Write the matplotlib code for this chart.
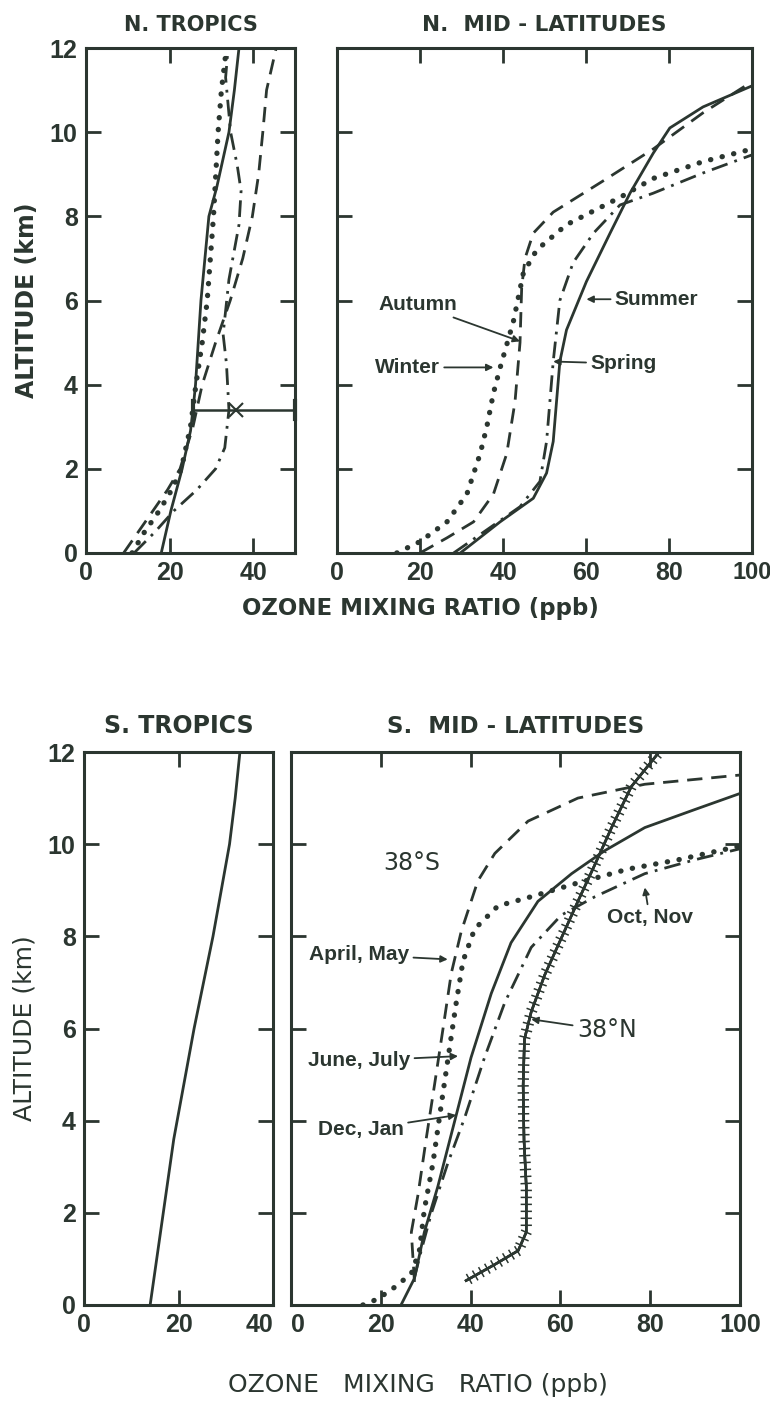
import matplotlib
matplotlib.use("Agg")
import matplotlib.pyplot as plt
import matplotlib.patheffects as pe
from matplotlib import font_manager

# ---- data: altitude (km) and ozone mixing ratio (ppb) ----
# N. tropics
nt_sol_alt = [0, 1, 2, 2.9, 3.4, 4, 6, 8, 8.7, 10, 11, 12]
nt_sol_o3 = [18, 20.3, 23, 25, 25.6, 26.2, 27.5, 29.4, 31.3, 34.2, 35.5, 36.6]
nt_dot_alt = [0, 0.5, 1, 1.5, 2, 3, 4, 5, 6, 8, 10, 11, 12]
nt_dot_o3 = [11, 14, 17.5, 20.5, 22.8, 25, 26.3, 27.8, 29, 30.5, 31.6, 32.4, 33.6]
nt_dash_alt = [0, 0.5, 1, 1.5, 2, 3, 4, 5, 6, 7, 8, 9, 10, 11, 12]
nt_dash_o3 = [9, 12.5, 16, 19.5, 22.5, 25.6, 27.8, 31, 34.5, 37.5, 39.8, 41.3, 42.3, 43.2, 45.5]
nt_dd_alt = [0, 0.5, 1, 1.5, 2, 2.5, 3.4, 4.5, 5.2, 6.5, 7.8, 8.6, 9.2, 10, 11.3, 12]
nt_dd_o3 = [11.5, 16.5, 21, 26.5, 31, 33.2, 34.2, 33.6, 32.8, 34.2, 36.6, 37.1, 36.2, 34.6, 33.4, 34]
nt_bar_alt = 3.4
nt_bar_lo, nt_bar_hi, nt_bar_mid = 25.5, 50, 36

# N. mid-latitudes
nm_winter_alt = [0, 0.27, 0.74, 1.4, 2.36, 3.0, 3.8, 4.4, 5.5, 6.65, 7.2, 7.8, 8.45, 8.9, 9.3, 9.6]
nm_winter_o3 = [14.4, 20, 26.5, 31.3, 34.5, 36.1, 37.7, 39.3, 42.5, 44.9, 48.1, 55.3, 68.2, 76.2, 88.2, 100]
nm_autumn_alt = [0, 0.36, 0.74, 1.4, 2.36, 3.6, 5.0, 6.3, 7.0, 7.6, 8.1, 8.84, 9.6, 10.46, 11.2]
nm_autumn_o3 = [20, 26.5, 32.9, 37.7, 40.9, 42.9, 44.1, 44.5, 45.3, 47.3, 52.1, 64.1, 76.2, 88.2, 100]
nm_summer_alt = [0, 0.74, 1.3, 1.9, 2.65, 3.6, 4.55, 5.3, 6.45, 7.6, 8.55, 9.5, 10.1, 10.6, 11.1]
nm_summer_o3 = [29.7, 39.3, 47.3, 50.5, 52.1, 52.9, 53.7, 55.3, 60.1, 65.8, 70.6, 76.2, 80.2, 88.2, 100]
nm_spring_alt = [0, 0.55, 1.1, 1.7, 2.65, 3.6, 4.55, 6.0, 6.9, 7.6, 8.27, 8.55, 9.03, 9.46]
nm_spring_o3 = [28.1, 36.1, 44.1, 48.9, 50.5, 51.3, 52.1, 53.7, 56.9, 61.8, 68.2, 76.2, 88.2, 100]

# S. tropics
st_alt = [0, 3.6, 6, 8, 10, 11, 12]
st_o3 = [14, 19, 23.3, 27.3, 30.8, 32, 33]

# S. mid-latitudes (38S by season, plus 38N annual)
sm_am_alt = [0.5, 1.58, 2.4, 3.6, 4.8, 5.96, 7.2, 8.1, 9.2, 9.8, 10.5, 11.0, 11.3, 11.5]
sm_am_o3 = [27.5, 26.8, 28.3, 30.1, 32, 33.8, 35.7, 37.9, 41.6, 45.4, 52.8, 63.9, 78.8, 100]
sm_jj_alt = [0, 0.13, 0.38, 0.68, 1.18, 2.07, 3.07, 4.37, 5.37, 6.56, 7.46, 8.16, 8.66, 8.86, 9.16, 9.46, 9.66, 9.96]
sm_jj_o3 = [16, 19.3, 23, 26.8, 28.6, 29.7, 31.6, 33.5, 35, 36.8, 38.3, 40.9, 46.1, 53.5, 63.9, 75.1, 86.2, 100]
sm_dj_alt = [0, 0.58, 1.58, 2.57, 3.97, 5.37, 6.76, 7.86, 8.76, 9.36, 9.86, 10.36, 10.75, 11.1]
sm_dj_o3 = [24.5, 27.5, 29.7, 32.7, 36.4, 40.1, 44.6, 49, 55, 62.5, 69.9, 78.8, 89.9, 100]
sm_on_alt = [0.6, 1.18, 1.97, 3.07, 4.07, 5.37, 6.56, 7.76, 8.46, 8.86, 9.36, 9.66, 9.9]
sm_on_o3 = [27.5, 29, 31.2, 34.9, 38.7, 43.1, 47.6, 53.5, 60.2, 67.7, 78.8, 89.9, 100]
sm_38n_alt = [0.53, 0.88, 1.18, 1.58, 2.57, 3.57, 4.77, 5.77, 6.36, 7.16, 7.96, 8.76, 9.56, 10.36, 11.25, 12]
sm_38n_o3 = [39, 45.4, 50.6, 52.4, 52.4, 51.9, 51.7, 52, 53.5, 56.5, 60.2, 63.9, 67.7, 71.4, 75.8, 82]

INK = '#2b3630'
W, H = 770, 1404

names = {f.name for f in font_manager.fontManager.ttflist}
NARROW = 'Liberation Sans Narrow' if 'Liberation Sans Narrow' in names else 'Liberation Sans'

plt.rcParams['font.family'] = 'DejaVu Sans'
plt.rcParams['text.color'] = INK

fig = plt.figure(figsize=(W / 100, H / 100), dpi=100)
fig.patch.set_facecolor('white')


def box(l, t, r, b):
    return [l / W, 1 - b / H, (r - l) / W, (b - t) / H]


SOLID = dict(color=INK, lw=2.0, ls='-')
DOT = dict(color=INK, lw=3.8, ls=(0, (0.05, 2.2)), dash_capstyle='round')
DASH = dict(color=INK, lw=2.0, ls=(0, (5.5, 3.2)))
DDOT = dict(color=INK, lw=2.0, ls=(0, (6, 2.6, 1, 2.6)))


def setup(ax, xmax, xticks, ylabels=True):
    ax.set_xlim(0, xmax)
    ax.set_ylim(0, 12)
    ax.set_xticks(xticks)
    ax.set_yticks(range(0, 13, 2))
    for s in ax.spines.values():
        s.set_linewidth(2.2)
        s.set_color(INK)
    ax.tick_params(direction='in', length=11, width=2, color=INK,
                   top=True, right=True, pad=6, labelcolor=INK)
    for lab in ax.get_xticklabels() + ax.get_yticklabels():
        lab.set_fontfamily(NARROW)
        lab.set_fontweight('bold')
        lab.set_fontsize(18)
    if not ylabels:
        ax.set_yticklabels([])


# ---------------- N. TROPICS ----------------
ax1 = fig.add_axes(box(86, 48, 295, 553))
ax1.plot(nt_sol_o3, nt_sol_alt, **SOLID)
ax1.plot(nt_dot_o3, nt_dot_alt, **DOT)
ax1.plot(nt_dash_o3, nt_dash_alt, **DASH)
ax1.plot(nt_dd_o3, nt_dd_alt, **DDOT)
ax1.plot([nt_bar_lo, nt_bar_hi], [nt_bar_alt, nt_bar_alt], color=INK, lw=1.8, clip_on=False)
for xx in (nt_bar_lo, nt_bar_hi):
    ax1.plot([xx, xx], [nt_bar_alt - 0.22, nt_bar_alt + 0.22], color=INK, lw=3, clip_on=False)
ax1.plot(nt_bar_mid, nt_bar_alt, marker='x', ms=10, mew=1.5, color=INK)
setup(ax1, 50, [0, 20, 40])
ax1.set_title('N. TROPICS', fontsize=15, fontweight='bold', color=INK, pad=12)
ax1.set_ylabel('ALTITUDE (km)', fontsize=17, fontweight='bold', color=INK, labelpad=8)

# ---------------- N. MID-LATITUDES ----------------
ax2 = fig.add_axes(box(337, 48, 752, 553))
ax2.plot(nm_summer_o3, nm_summer_alt, **SOLID)
ax2.plot(nm_winter_o3, nm_winter_alt, **DOT)
ax2.plot(nm_autumn_o3, nm_autumn_alt, **DASH)
ax2.plot(nm_spring_o3, nm_spring_alt, **DDOT)
setup(ax2, 100, [0, 20, 40, 60, 80, 100], ylabels=False)
ax2.get_xticklabels()[-1].set_fontsize(17)
ax2.set_title('N.  MID - LATITUDES', fontsize=15.5, fontweight='bold', color=INK, pad=12)

ann = dict(fontsize=15, fontweight='bold', family=NARROW, color=INK, va='center', ha='center')
arr = dict(arrowstyle='-|>', color=INK, lw=1.3, mutation_scale=10, shrinkA=1, shrinkB=0)
ax2.annotate('Autumn', xy=(44.1, 5.03), xytext=(19.5, 5.9), arrowprops=arr, **ann)
ax2.annotate('Winter', xy=(37.7, 4.41), xytext=(17.0, 4.41), arrowprops=arr, **ann)
ax2.annotate('Summer', xy=(60.1, 6.03), xytext=(77.0, 6.03), arrowprops=arr, **ann)
ax2.annotate('Spring', xy=(52.1, 4.55), xytext=(69.0, 4.5), arrowprops=arr, **ann)

fig.text(420 / W, 1 - 609 / H, 'OZONE MIXING RATIO (ppb)', fontsize=16.5,
         fontweight='bold', color=INK, ha='center', va='center')

# ---------------- S. TROPICS ----------------
ax3 = fig.add_axes(box(84, 752, 273, 1305))
ax3.plot(st_o3, st_alt, **SOLID)
setup(ax3, 40, [0, 20, 40])
ax3.get_xticklabels()[-1].set_horizontalalignment('right')
ax3.set_title('S. TROPICS', fontsize=17, fontweight='bold', color=INK, pad=14)
ax3.set_ylabel('ALTITUDE (km)', fontsize=18, color=INK, labelpad=8)

# ---------------- S. MID-LATITUDES ----------------
ax4 = fig.add_axes(box(291, 752, 740, 1305))
ax4.plot(sm_am_o3, sm_am_alt, **DASH)
ax4.plot(sm_jj_o3, sm_jj_alt, **DOT)
ax4.plot(sm_dj_o3, sm_dj_alt, **SOLID)
ax4.plot(sm_on_o3, sm_on_alt, **DDOT)
ax4.plot(sm_38n_o3, sm_38n_alt, color=INK, lw=1.8,
         path_effects=[pe.withTickedStroke(angle=90, spacing=5, length=0.7, linewidth=1.1),
                       pe.withTickedStroke(angle=-90, spacing=5, length=0.7, linewidth=1.1),
                       pe.Normal()])
setup(ax4, 100, [0, 20, 40, 60, 80, 100], ylabels=False)
ax4.get_xticklabels()[0].set_horizontalalignment('left')
ax4.set_title('S.  MID - LATITUDES', fontsize=16.5, fontweight='bold', color=INK, pad=14)

ax4.text(26.8, 9.6, '38°S', fontsize=17, color=INK, ha='center', va='center')
ax4.annotate('38°N', xy=(53.5, 6.2), xytext=(70.3, 5.96), arrowprops=arr,
             fontsize=17, color=INK, ha='center', va='center')
ax4.annotate('April, May', xy=(34.9, 7.5), xytext=(15.2, 7.6), arrowprops=arr, **ann)
ax4.annotate('June, July', xy=(37.2, 5.4), xytext=(15.2, 5.3), arrowprops=arr, **ann)
ax4.annotate('Dec, Jan', xy=(36.8, 4.12), xytext=(15.6, 3.8), arrowprops=arr, **ann)
ax4.annotate('Oct, Nov', xy=(78.8, 9.06), xytext=(79.9, 8.4), arrowprops=arr, **ann)

fig.text(418 / W, 1 - 1385 / H, 'OZONE   MIXING   RATIO (ppb)', fontsize=18,
         color=INK, ha='center', va='center')

fig.savefig('out.png', dpi=100, facecolor='white')
